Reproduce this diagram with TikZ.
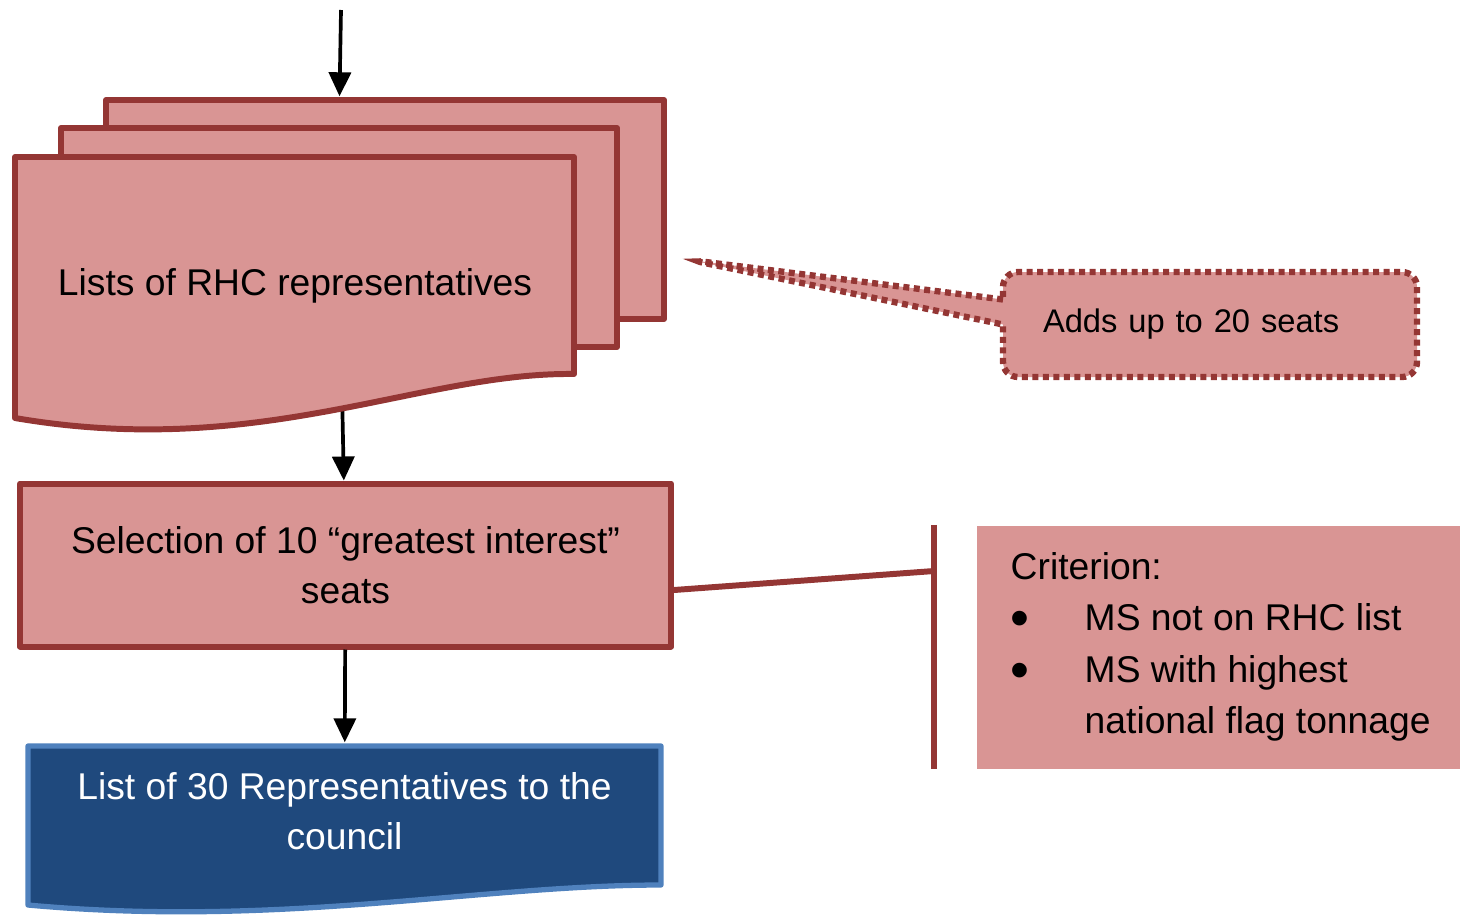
\documentclass[tikz,border=0pt]{standalone}
\usepackage{fontspec}
\setmainfont{Liberation Sans}
\usetikzlibrary{arrows.meta,positioning,fit,shapes.callouts}
\definecolor{rhcfill}{HTML}{D99594}
\definecolor{rhcline}{HTML}{943634}
\definecolor{cnlfill}{HTML}{1F497D}
\definecolor{cnlline}{HTML}{4F81BD}
\newcommand{\critbullet}{\makebox[7.4mm][l]{\raisebox{-1.7pt}{\scalebox{1.45}{\textbullet}}}}

\begin{document}
\begin{tikzpicture}[
    x=0.1mm, y=-0.1mm,
    font=\fontsize{10.6}{14.3}\selectfont,
    nosep/.style={inner sep=0},
    page/.style={draw=rhcline, fill=rhcfill, line width=1.7pt, line join=round},
    stepbox/.style={page, rectangle, align=center, minimum width=65.1mm, minimum height=16.3mm},
    docblue/.style={draw=cnlline, fill=cnlfill, line width=1.5pt, line join=round},
    flow/.style={-{Triangle[length=2.4mm, width=2.2mm]}, line width=1.05pt, black},
    link/.style={draw=rhcline, line width=1.7pt},
    note/.style={rectangle callout, draw=rhcline, fill=rhcfill, line width=1.8pt,
        dash pattern=on 0.6mm off 0.45mm, rounded corners=1.5mm, callout pointer width=2.5mm,
        text width=33.4mm, inner xsep=4mm, minimum height=10.5mm, align=left,
        font=\fontsize{9.3}{12}\selectfont},
    crit/.style={rectangle, fill=rhcfill, nosep, inner xsep=3.4mm, align=left,
        minimum height=24.3mm, font=\fontsize{10.6}{14.6}\selectfont}]

\useasboundingbox (0,0) rectangle (1460,914);

% points and boxes
\coordinate (in) at (341,10);
\coordinate (tip) at (690,260);
\coordinate (brk) at (934,571);
\node (stack) [fit={(12,97) (667,432)}, nosep] {};
\node (select) [stepbox] at (345.5,565) {Selection of 10 “greatest interest”\\seats};
\node (adds) [note, callout absolute pointer={(tip)}] at (1210,324.5) {Adds up to 20 seats};
\node (crit) [crit, anchor=west] at (976,647) {Criterion:\\
    \critbullet MS not on RHC list\\
    \critbullet MS with highest\\
    \hspace*{7.4mm}national flag tonnage};

% output document
\draw[docblue] (28,746) -- (661,746) -- (661,885) .. controls (480,885) and (280,928) .. (28,905) -- cycle;
\node (council) [text=white, minimum width=63.3mm, minimum height=13.6mm, align=center] at (344.5,811) {List of 30 Representatives to the\\council};

% flow
\draw[flow] (in) -- (stack.north);
\draw[flow] (stack.center) -- (select);
\draw[flow] (select) -- (council);
\draw[link] ([yshift=-2.5mm]select.east) -- (brk);
\draw[link] (brk |- crit.north) -- (brk |- crit.south);

% stack of lists, drawn over the arrow
\draw[page] (106,100) rectangle (664,319);
\draw[page] (61,128) rectangle (617,347);
\draw[page] (15,157) -- (574,157) -- (574,374) .. controls (420,372) and (260,460) .. (15,418) -- cycle;
\node (lists) at (295,286) {Lists of RHC representatives};

\end{tikzpicture}
\end{document}
